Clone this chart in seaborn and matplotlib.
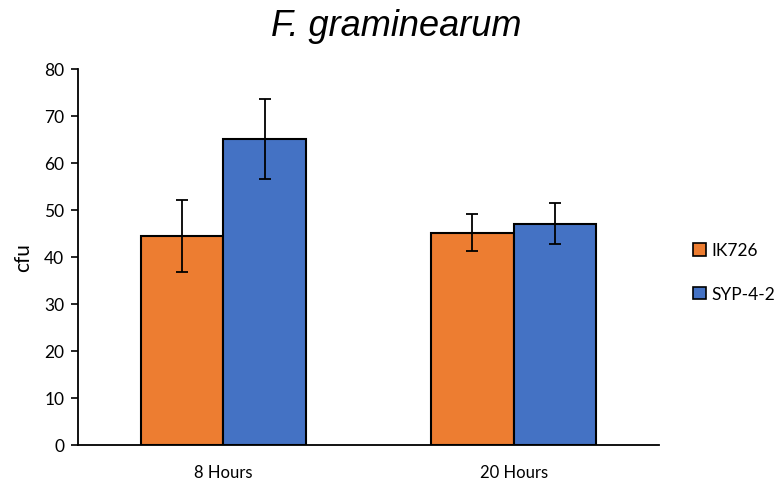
import matplotlib
matplotlib.use("Agg")
import matplotlib.pyplot as plt
import seaborn as sns
import pandas as pd
from matplotlib.patches import Patch

categories = ["8 Hours", "20 Hours"]
strains = ["IK726", "SYP-4-2"]
ik726_values = [44.5, 45.2]
syp_values = [65.1, 47.1]
ik726_err = [7.7, 4.0]
syp_err = [8.5, 4.4]
colors = ["#ED7D31", "#4472C4"]

df = pd.DataFrame({
    "time": categories * 2,
    "strain": [strains[0]] * 2 + [strains[1]] * 2,
    "cfu": ik726_values + syp_values,
    "err": ik726_err + syp_err,
})

sns.set_style("white")
plt.rcParams["font.family"] = ["Lato", "DejaVu Sans"]
plt.rcParams["text.color"] = "black"
plt.rcParams["axes.labelcolor"] = "black"

fig = plt.figure(figsize=(7.74, 4.81), dpi=100)
ax = fig.add_axes([0.1008, 0.0728, 0.7506, 0.7817])

sns.barplot(data=df, x="time", y="cfu", hue="strain", order=categories,
            hue_order=strains, palette=colors, errorbar=None, width=0.568,
            edgecolor="black", linewidth=1.5, ax=ax, legend=False, saturation=1)

bars = list(ax.patches)
idx = 0
for s in strains:
    sub = df[df.strain == s].set_index("time").loc[categories]
    for c in categories:
        p = bars[idx]
        idx += 1
        xc = p.get_x() + p.get_width() / 2
        ax.errorbar(xc, sub.loc[c, "cfu"], yerr=sub.loc[c, "err"], fmt="none",
                    ecolor="black", elinewidth=1.3, capsize=4.5, capthick=1.3)

ax.set_ylim(0, 80)
ax.set_xlim(-0.5, 1.5)
ax.set_yticks(range(0, 81, 10))
ax.tick_params(axis="y", which="both", left=True, length=5, width=1.2,
               labelsize=12.5, colors="black", pad=5)
ax.tick_params(axis="x", bottom=False, labelsize=12, pad=10, colors="black")
ax.set_xlabel("")
ax.set_ylabel("cfu", fontsize=15, labelpad=8)
for sp in ["top", "right"]:
    ax.spines[sp].set_visible(False)
for sp in ["left", "bottom"]:
    ax.spines[sp].set_color("black")
    ax.spines[sp].set_linewidth(1.3)

fig.text(0.512, 0.944, "F. graminearum", ha="center", va="center", color="black",
         fontsize=26, style="italic", family=["Liberation Sans", "DejaVu Sans"])

handles = [Patch(facecolor=colors[i], edgecolor="black", linewidth=1.2, label=strains[i])
           for i in range(2)]
fig.legend(handles=handles, loc="center left", bbox_to_anchor=(0.875, 0.432),
           frameon=False, fontsize=12.5, handlelength=0.75, handleheight=0.75,
           handletextpad=0.3, labelspacing=1.6)

fig.savefig("out.png", dpi=100)
